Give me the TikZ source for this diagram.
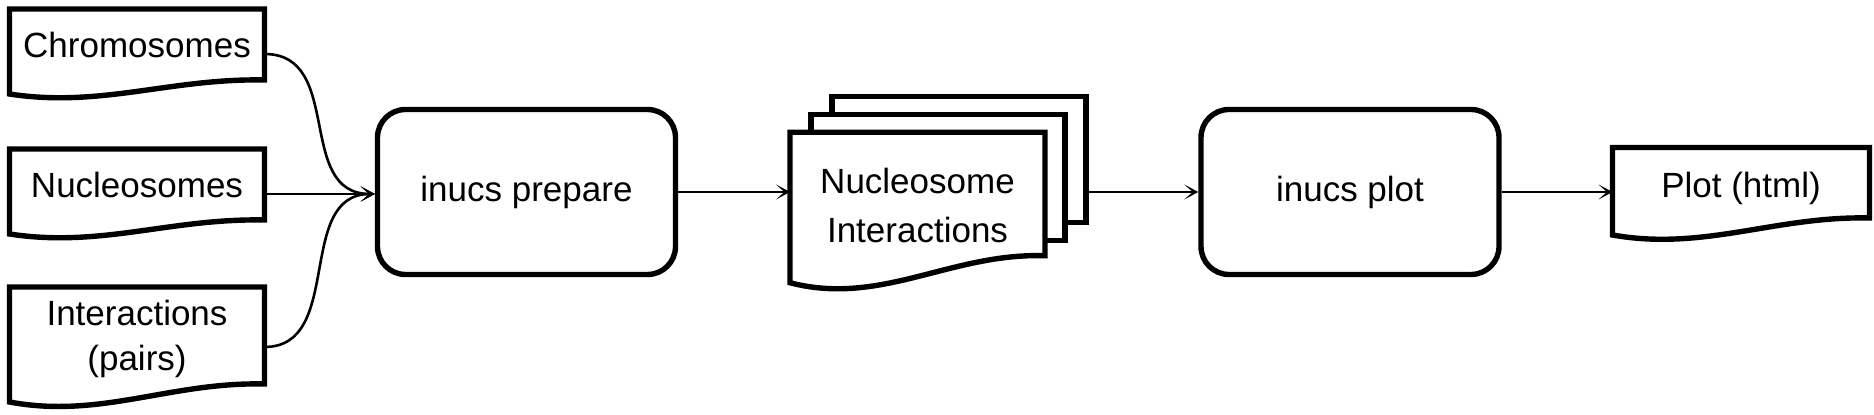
\documentclass[tikz,border=0pt]{standalone}
\usepackage{fontspec}
\setmainfont{Liberation Sans}
\usetikzlibrary{arrows.meta,calc}
\pgfdeclarelayer{back}
\pgfsetlayers{back,main}

\tikzset{
  docbox/.style={minimum width=127.5pt, minimum height=#1, inner sep=0pt, outer sep=0pt},
  doclabel/.style={align=center, yshift=4.5pt},
  procbox/.style={draw, line width=2.7pt, rounded corners=14pt, minimum width=149pt, minimum height=82.5pt},
  page/.style={draw, fill=white, line width=2.7pt, minimum width=127pt, minimum height=63pt, anchor=north west, outer sep=0pt},
  docedge/.style={draw, fill=white, line width=2.7pt},
  flow/.style={line width=1.3pt, -{Stealth[length=7pt,width=7.5pt,inset=4.2pt]}}
}

\newcommand{\drawdoc}[2]{%
  \begin{pgfonlayer}{back}
    \draw[docedge] (#1.north west) -- (#1.north east) -- ($(#1.south east)+(0,-#2)$)
      .. controls +(-94,{-0.1*#2}) and +(91,{0.74*#2}) .. ($(#1.south west)+(0,-5)$) -- cycle;
  \end{pgfonlayer}}

\begin{document}
\begin{tikzpicture}[x=0.5pt, y=-0.5pt, font=\fontsize{17.5pt}{22.5pt}\selectfont]
  \useasboundingbox (0,0) rectangle (1874,415);

  \node[docbox=45pt, label={[doclabel]center:Chromosomes}] (chrom) at (137,54) {};
  \node[docbox=45pt, label={[doclabel]center:Nucleosomes}] (nucl) at (137,194) {};
  \node[docbox=60pt, label={[doclabel, yshift=-0.7pt]center:Interactions\\(pairs)}] (inter) at (137,347) {};
  \drawdoc{chrom}{19}
  \drawdoc{nucl}{19}
  \drawdoc{inter}{23}

  \node[procbox] (prepare) at (526.5,192) {inucs prepare};

  \node[docbox=77.75pt, label={[doclabel, yshift=-2pt]center:Nucleosome\\[2pt]Interactions}] (nucint) at (917.5,210) {};
  \begin{pgfonlayer}{back}
    \node[page] (nucint3) at ([shift={(42,-36)}]nucint.north west) {};
    \node[page] (nucint2) at ([shift={(21,-18)}]nucint.north west) {};
  \end{pgfonlayer}
  \drawdoc{nucint}{32}

  \node[procbox] (plot) at (1350,192) {inucs plot};

  \node[docbox=46.25pt, minimum width=128.5pt, label={[doclabel, yshift=-2pt]center:Plot (html)}] (html) at (1741,193.75) {};
  \drawdoc{html}{22}

  \draw[flow] (chrom.east) .. controls +(80,0) and +(-80,0) .. (nucl.east -| prepare.west);
  \draw[flow] (nucl.east) -- (nucl.east -| prepare.west);
  \draw[flow] (inter.east) .. controls +(80,0) and +(-80,0) .. (nucl.east -| prepare.west);
  \draw[flow] (prepare.east) -- (prepare.east -| nucint.west);
  \draw[flow] (nucint3.east |- plot.west) -- (plot.west);
  \draw[flow] (plot.east) -- (plot.east -| html.west);
\end{tikzpicture}
\end{document}
